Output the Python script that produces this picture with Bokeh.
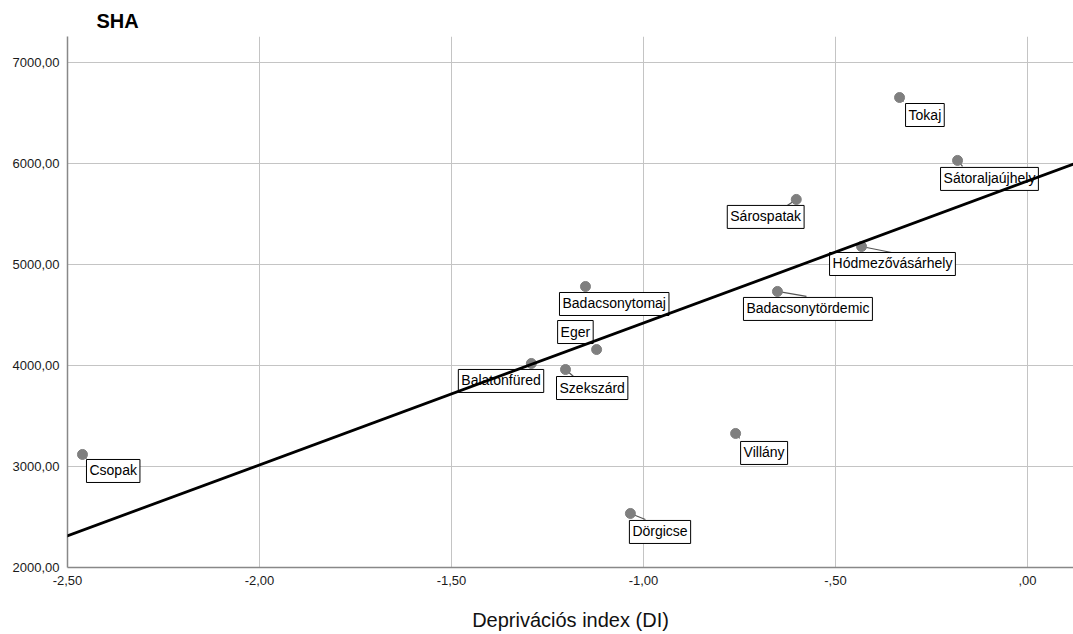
import numpy as np
from bokeh.plotting import figure
from bokeh.models import Label, FixedTicker, Range1d, Slope
from bokeh.embed import file_html
from bokeh.resources import INLINE

# ---- data ----
towns = ["Csopak", "Balatonfüred", "Szekszárd", "Eger", "Badacsonytomaj", "Dörgicse",
         "Villány", "Badacsonytördemic", "Hódmezővásárhely", "Sárospatak", "Tokaj",
         "Sátoraljaújhely"]
di = [-2.461, -1.292, -1.203, -1.122, -1.151, -1.034, -0.760, -0.651, -0.432, -0.602, -0.333, -0.182]
sha = [3119, 4020, 3960, 4158, 4782, 2535, 3327, 4733, 5178, 5644, 6653, 6030]

x_ticks = [-2.5, -2.0, -1.5, -1.0, -0.5, 0.0]
x_tick_labels = ["-2,50", "-2,00", "-1,50", "-1,00", "-,50", ",00"]
y_ticks = [2000, 3000, 4000, 5000, 6000, 7000]
y_tick_labels = ["2000,00", "3000,00", "4000,00", "5000,00", "6000,00", "7000,00"]

# label box offsets from point (screen px, right / down)
lab_dx = [4, -73, -9, -39, -26, -1, 5, -34, -32, -69, 6, -17]
lab_dy = [5, 6, 7, -29, 6, 7, 8, 6, 6, 6, 6, 7]
# leader line end offsets (screen px, right / down)
lead_dx = [4, 0, 8, 0, 0, 15, 4, 29, 30, -9, 4, 5]
lead_dy = [4, 0, 7, 0, 0, 6, 5, 5, 6, 6, 4, 6]

XMIN, XMAX = -2.5, 0.12
YMIN, YMAX = 2000, 7257

FONT = "Liberation Sans"

p = figure(width=1073, height=634, output_backend="svg", toolbar_location=None,
           x_range=Range1d(XMIN, XMAX), y_range=Range1d(YMIN, YMAX),
           min_border_left=67, min_border_right=0, min_border_top=36, min_border_bottom=67)
p.outline_line_color = None
p.background_fill_color = "white"

p.title.text = "SHA"
p.title.text_font = FONT
p.title.text_font_size = "20px"
p.title.text_font_style = "bold"
p.title.text_color = "black"
p.title.align = "left"
p.title.offset = 29

for ax in (p.xaxis, p.yaxis):
    ax.axis_line_color = "#888888"
    ax.axis_line_width = 1.5
    ax.major_tick_out = 0
    ax.major_tick_in = 0
    ax.minor_tick_out = 0
    ax.minor_tick_in = 0
    ax.major_label_text_font = FONT
    ax.major_label_text_font_size = "13px"
    ax.major_label_text_color = "#1a1a1a"

p.xaxis.ticker = FixedTicker(ticks=x_ticks)
p.xaxis.major_label_overrides = {t: l for t, l in zip(x_ticks, x_tick_labels)}
p.yaxis.ticker = FixedTicker(ticks=y_ticks)
p.yaxis.major_label_overrides = {t: l for t, l in zip(y_ticks, y_tick_labels)}
p.xaxis.major_label_standoff = 8
p.yaxis.major_label_standoff = 8

p.xaxis.axis_label = "Deprivációs index (DI)"
p.xaxis.axis_label_text_font = FONT
p.xaxis.axis_label_text_font_size = "20px"
p.xaxis.axis_label_text_font_style = "normal"
p.xaxis.axis_label_text_color = "#111111"
p.xaxis.axis_label_standoff = 21

p.xgrid.grid_line_color = "#c4c4c4"
p.ygrid.grid_line_color = "#c4c4c4"

# leader lines
px_x = (1073 - 67) / (XMAX - XMIN)
px_y = (567 - 36) / (YMAX - YMIN)
x1 = [x + dx / px_x for x, dx in zip(di, lead_dx)]
y1 = [y - dy / px_y for y, dy in zip(sha, lead_dy)]
p.segment(di, sha, x1, y1, line_color="#555555", line_width=1.2)

p.scatter(di, sha, size=10, fill_color="#7f7f7f", line_color="#7f7f7f")

for t, x, y, dx, dy in zip(towns, di, sha, lab_dx, lab_dy):
    p.add_layout(Label(x=x, y=y, x_offset=dx, y_offset=-dy, text=t, anchor="top_left",
                       text_font=FONT, text_font_size="14px", text_color="black",
                       background_fill_color="white", border_line_color="black",
                       border_line_width=1,
                       padding=dict(left=3, right=3, top=3, bottom=4)))

# regression line computed from the data, drawn above the labels
slope, intercept = np.polyfit(di, sha, 1)
p.add_layout(Slope(gradient=slope, y_intercept=intercept, line_color="black", line_width=2.8))

open("out.html", "w").write(file_html(p, INLINE))
